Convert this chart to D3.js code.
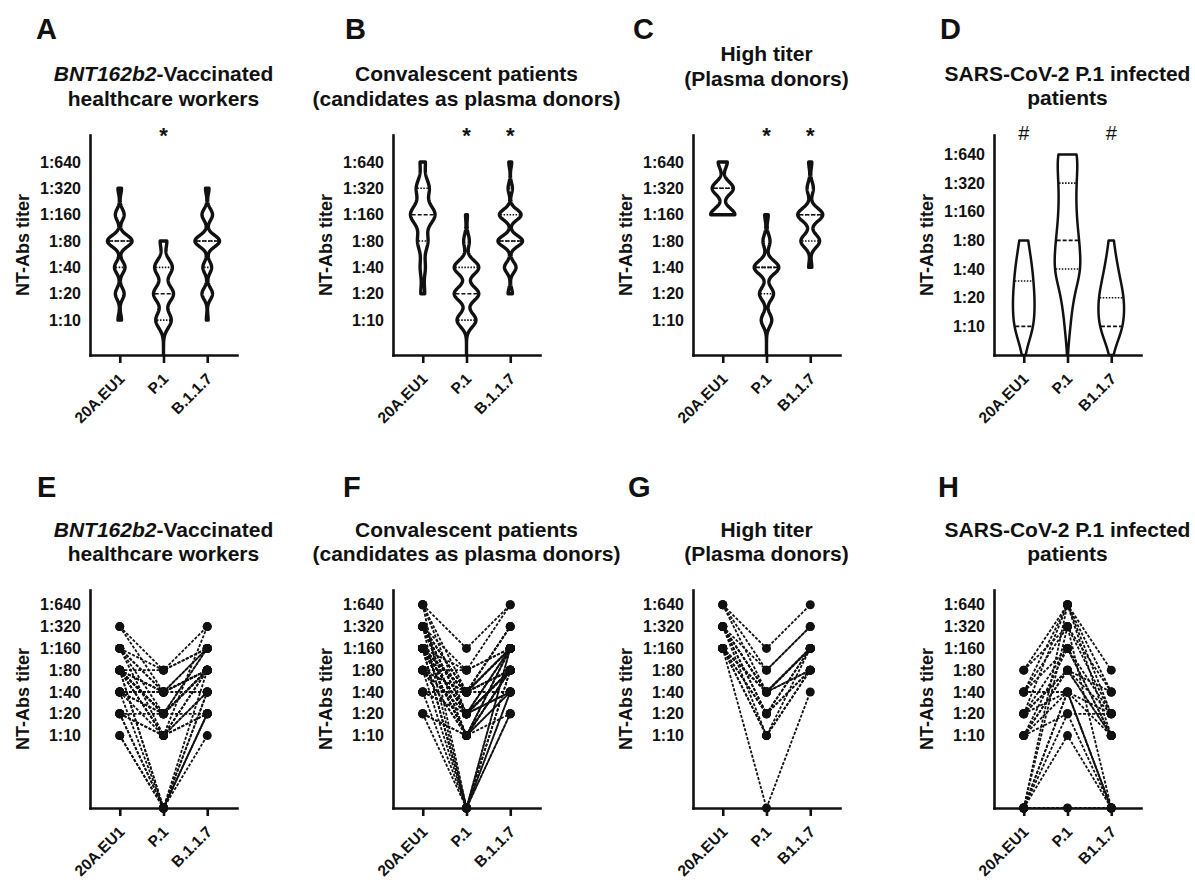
<!DOCTYPE html>
<html><head><meta charset="utf-8">
<script src="https://cdn.jsdelivr.net/npm/d3@7"></script>
<style>
body{margin:0;background:#fff}
svg{display:block}
text{font-family:"Liberation Sans",Arial,Helvetica,sans-serif;fill:#111}
</style>
</head><body>
<svg id="chart" width="1195" height="880"></svg>
<script>
// ---------------- DATA ----------------
const variantsDot = ["20A.EU1","P.1","B.1.1.7"];
const variantsNoDot = ["20A.EU1","P.1","B1.1.7"];
const tickValues = [10,20,40,80,160,320,640];
const tickLabels = ["1:10","1:20","1:40","1:80","1:160","1:320","1:640"];
const panelLetters = ["A","B","C","D","E","F","G","H"];
const yAxisLabel = "NT-Abs titer";

const titleVaccinated = [[["BNT162b2",true],["-Vaccinated",false]],[["healthcare workers",false]]];
const titleConvalescent = [[["Convalescent patients",false]],[["(candidates as plasma donors)",false]]];
const titleHighTiter = [[["High titer",false]],[["(Plasma donors)",false]]];
const titleP1Infected = [[["SARS-CoV-2 P.1 infected",false]],[["patients",false]]];

const marksA = ["","*",""];
const marksB = ["","*","*"];
const marksC = ["","*","*"];
const marksD = ["#","","#"];

// paired titers per subject: [20A.EU1, P.1, B.1.1.7]; 0 = undetectable
const vaccinated = [
 [320,80,320],[320,40,160],[160,80,160],[160,40,160],[160,40,80],[160,20,160],[160,10,320],
 [80,80,160],[80,40,80],[80,40,80],[80,40,80],[80,20,80],[80,20,80],[80,20,160],[80,20,80],
 [80,10,80],[80,10,40],[80,0,80],[80,0,40],[80,20,80],[80,10,80],
 [40,40,80],[40,40,40],[40,20,80],[40,10,40],[40,0,20],[40,20,80],
 [20,20,20],[20,10,20],[20,0,20],[20,0,40],[20,10,20],[10,0,20],[10,0,10]
];
const convalescent = [
 [640,160,640],[640,40,320],[640,20,160],[640,0,160],
 [320,80,640],[320,40,320],[320,40,160],[320,20,160],[320,20,80],[320,10,160],[320,10,80],[320,0,160],[320,40,320],[320,20,80],
 [160,80,160],[160,40,160],[160,40,80],[160,40,160],[160,40,80],[160,20,160],[160,20,80],[160,20,80],[160,20,40],
 [160,10,160],[160,10,80],[160,10,80],[160,0,80],[160,0,40],[160,40,160],[160,20,80],[160,10,160],[160,0,80],[160,40,80],
 [80,80,160],[80,40,80],[80,20,80],[80,20,40],[80,10,80],[80,0,40],[80,40,160],[80,10,40],
 [40,20,80],[40,40,40],[40,0,20],[40,20,40],
 [20,10,20],[20,0,20],[20,10,40]
];
const highTiter = [
 [640,160,640],[640,80,320],[640,40,160],
 [320,80,320],[320,40,160],[320,40,160],[320,20,160],[320,40,80],[320,10,160],[320,20,80],
 [160,40,160],[160,40,160],[160,40,80],[160,20,80],[160,20,160],[160,10,80],[160,10,80],[160,0,40]
];
const p1Infected = [
 [80,640,80],[80,320,40],[40,640,40],[40,320,20],[40,40,20],[40,160,10],
 [20,160,20],[20,80,20],[20,40,10],[20,80,10],[20,640,20],
 [10,160,10],[10,80,10],[10,40,0],[10,80,40],[10,20,20],
 [0,640,10],[0,320,0],[0,40,0],[0,40,0],[0,20,0],[0,10,0],[0,0,0]
];

// ---------------- LAYOUT / STYLE ----------------
const colX = [90, 393, 693, 994];
const axisW = 147;
const rows = [
  {top:135, bottom:355, letterY:39},
  {top:590, bottom:808, letterY:497}
];
const INK = "#111";
const FONT = '"Liberation Sans",Arial,Helvetica,sans-serif';

const panels = [
  {letter:panelLetters[0], kind:"violin", row:0, col:0, cats:variantsDot, data:vaccinated, title:titleVaccinated, titleY:[81,106], letterX:36,
   marks:marksA, yDomain:[4,1300], maxHalf:[12.3,10,12.3], bw:{factor:0.65}, stroke:3.4},
  {letter:panelLetters[1], kind:"violin", row:0, col:1, cats:variantsDot, data:convalescent, title:titleConvalescent, titleY:[81,106], letterX:345,
   marks:marksB, yDomain:[4,1300], maxHalf:[12.3,12.3,12.3], bw:{factor:0.65}, stroke:3.4},
  {letter:panelLetters[2], kind:"violin", row:0, col:2, cats:variantsNoDot, data:highTiter, title:titleHighTiter, titleY:[61,86], letterX:633,
   marks:marksC, yDomain:[4,1300], maxHalf:[12.1,12.3,12.5], bw:{factor:0.65}, stroke:3.4},
  {letter:panelLetters[3], kind:"violin", row:0, col:3, cats:variantsNoDot, data:p1Infected, title:titleP1Infected, titleY:[81,105], letterX:940,
   marks:marksD, yDomain:[5,1024], maxHalf:[10.8,12.8,12.8], bw:{fixed:0.62}, stroke:2.5},
  {letter:panelLetters[4], kind:"paired", row:1, col:0, cats:variantsDot, data:vaccinated, title:titleVaccinated, titleY:[537,561], letterX:37, yDomain:[1,1024]},
  {letter:panelLetters[5], kind:"paired", row:1, col:1, cats:variantsDot, data:convalescent, title:titleConvalescent, titleY:[537,561], letterX:343, yDomain:[1,1024]},
  {letter:panelLetters[6], kind:"paired", row:1, col:2, cats:variantsNoDot, data:highTiter, title:titleHighTiter, titleY:[537,561], letterX:628, yDomain:[1,1024]},
  {letter:panelLetters[7], kind:"paired", row:1, col:3, cats:variantsNoDot, data:p1Infected, title:titleP1Infected, titleY:[537,561], letterX:938, yDomain:[1,1024]}
];

// ---------------- HELPERS ----------------
const svg = d3.select("#chart");
const log2 = v => Math.log(v) / Math.LN2;

function density(t, logs, bw){
  let d = 0;
  for (const x of logs){ const z = (t - x) / bw; d += Math.exp(-0.5*z*z); }
  return d;
}
function silverman(logs){
  const sd = d3.deviation(logs) || 0.5;
  const s = logs.slice().sort(d3.ascending);
  const iqr = (d3.quantile(s,0.75) - d3.quantile(s,0.25)) / 1.34;
  const m = iqr > 0 ? Math.min(sd, iqr) : sd;
  return 0.9 * m * Math.pow(logs.length, -0.2);
}

function drawPanel(p){
  const g = svg.append("g");
  const row = rows[p.row];
  const x0 = colX[p.col];
  const x = d3.scalePoint().domain(p.cats).range([x0, x0 + axisW]).padding(0.68);
  const y = d3.scaleLog().base(2).domain(p.yDomain).range([row.bottom, row.top]);
  const yv = v => v > 0 ? y(v) : y(p.yDomain[0]);

  // panel letter
  g.append("text").attr("x", p.letterX).attr("y", row.letterY)
    .attr("font-size", 29).attr("font-weight", "bold").text(p.letter);

  // title
  p.title.forEach((line, i) => {
    const t = g.append("text").attr("x", x(p.cats[1])).attr("y", p.titleY[i])
      .attr("text-anchor", "middle").attr("font-size", 21).attr("font-weight", "bold");
    line.forEach(([s, it]) => t.append("tspan").attr("font-style", it ? "italic" : "normal").text(s));
  });

  // y axis
  const ya = g.append("g").attr("transform", `translate(${x0},0)`)
    .call(d3.axisLeft(y).tickValues(tickValues).tickFormat((d,i) => tickLabels[i]).tickSize(0).tickPadding(9));
  ya.select(".domain").attr("stroke", INK).attr("stroke-width", 2.6).attr("stroke-linecap","square");
  ya.selectAll(".tick text").attr("font-size", 16).attr("font-weight", "bold")
    .attr("font-family", FONT).attr("fill", INK);

  // x axis (ticks from the axis; labels drawn rotated below)
  const xa = g.append("g").attr("transform", `translate(0,${row.bottom})`)
    .call(d3.axisBottom(x).tickSize(8).tickSizeOuter(0).tickFormat(""));
  xa.select(".domain").attr("stroke", INK).attr("stroke-width", 2.6).attr("stroke-linecap","square");
  xa.selectAll(".tick line").attr("stroke", INK).attr("stroke-width", 2.6);
  g.append("g").selectAll("text").data(p.cats).join("text")
    .attr("transform", d => `translate(${x(d) + 2},${row.bottom + 21}) rotate(-45)`)
    .attr("text-anchor", "end").attr("dy", "0.35em")
    .attr("font-size", 15.5).attr("font-weight", "bold").text(d => d);

  // y label
  g.append("text").attr("transform", `translate(${x0 - 67},${(row.top + row.bottom)/2}) rotate(-90)`)
    .attr("text-anchor", "middle").attr("dy", "0.35em")
    .attr("font-size", 18).attr("font-weight", "bold").text(yAxisLabel);

  if (p.kind === "violin") drawViolins(g, p, x, y);
  else drawPaired(g, p, x, yv);

  if (p.marks){
    p.marks.forEach((m, i) => {
      if (!m) return;
      const hash = m === "#";
      g.append("text").attr("x", x(p.cats[i])).attr("y", hash ? 140 : 143)
        .attr("text-anchor", "middle").attr("font-size", hash ? 20 : 22)
        .attr("font-weight", hash ? "normal" : "bold").text(m);
    });
  }
}

function drawViolins(g, p, x, y){
  const baseLog = log2(p.yDomain[0]);
  p.cats.forEach((cat, i) => {
    const vals = p.data.map(r => r[i]);
    const logs = vals.filter(v => v > 0).map(log2);
    const hasZero = vals.some(v => v <= 0);
    const lo = hasZero ? baseLog : d3.min(logs);
    const hi = d3.max(logs);
    const bw = p.bw.fixed ? p.bw.fixed : silverman(logs) * p.bw.factor;
    const N = 200;
    const pts = d3.range(N + 1).map(k => { const t = lo + (hi - lo) * k / N; return [t, density(t, logs, bw)]; });
    const maxD = d3.max(pts, d => d[1]);
    const sc = p.maxHalf[i] / maxD;
    const cx = x(cat);
    const area = d3.area()
      .y(d => y(Math.pow(2, d[0])))
      .x0(d => cx - d[1] * sc)
      .x1(d => cx + d[1] * sc);
    g.append("path").attr("d", area(pts)).attr("fill", "none")
      .attr("stroke", INK).attr("stroke-width", p.stroke).attr("stroke-linejoin", "round");

    const sorted = vals.slice().sort(d3.ascending);
    const qs = [
      {q: d3.quantile(sorted, 0.25), dash: "1.5,1.5"},
      {q: d3.quantile(sorted, 0.75), dash: "1.5,1.5"},
      {q: d3.quantile(sorted, 0.5), dash: "4,2"}
    ];
    qs.forEach(({q, dash}) => {
      const t = q > 0 ? log2(q) : lo;
      if (t < lo || t > hi) return;
      const w = density(t, logs, bw) * sc - p.stroke / 2 + 0.5;
      if (w < 1.5) return;
      g.append("line").attr("x1", cx - w).attr("x2", cx + w)
        .attr("y1", y(Math.pow(2, t))).attr("y2", y(Math.pow(2, t)))
        .attr("stroke", INK).attr("stroke-width", 1.6).attr("stroke-dasharray", dash);
    });
  });
}

function drawPaired(g, p, x, yv){
  const line = d3.line().x((d, i) => x(p.cats[i])).y(d => yv(d));
  g.append("g").selectAll("path").data(p.data).join("path")
    .attr("d", d => line(d)).attr("fill", "none").attr("stroke", INK)
    .attr("stroke-width", 1.8).attr("stroke-dasharray", "3,1.6");
  const pts = [];
  p.data.forEach(r => r.forEach((v, i) => pts.push([i, v])));
  g.append("g").selectAll("circle").data(pts).join("circle")
    .attr("cx", d => x(p.cats[d[0]])).attr("cy", d => yv(d[1])).attr("r", 4.5).attr("fill", INK);
}

panels.forEach(drawPanel);
</script>
</body></html>
